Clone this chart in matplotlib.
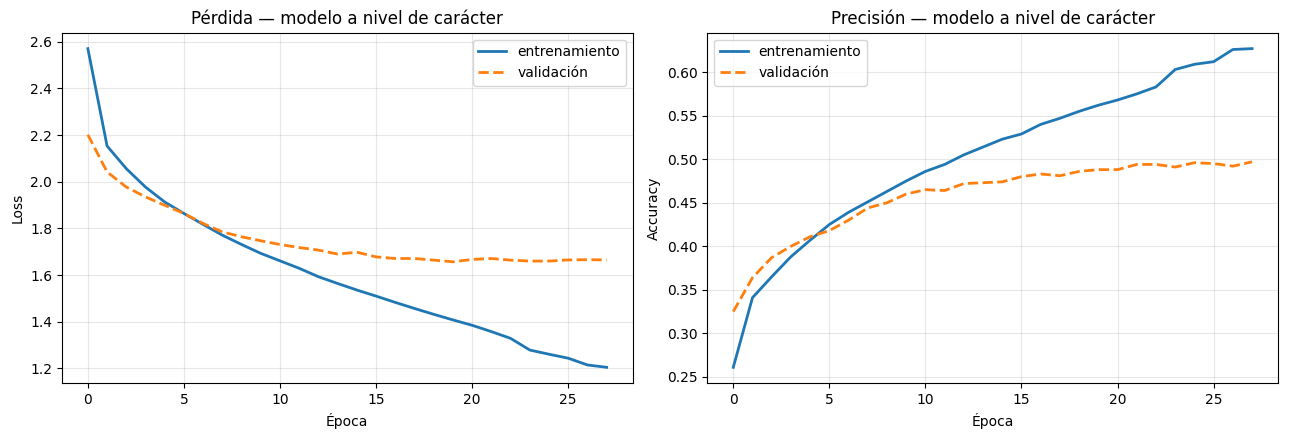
import numpy as np
import matplotlib
matplotlib.use('Agg')
import matplotlib.pyplot as plt

# Curvas de entrenamiento
epocas = np.arange(28)

loss_train = [2.570, 2.153, 2.056, 1.977, 1.913, 1.864, 1.817, 1.771, 1.731, 1.693,
              1.661, 1.629, 1.593, 1.564, 1.536, 1.510, 1.483, 1.457, 1.432, 1.408,
              1.385, 1.358, 1.329, 1.279, 1.261, 1.244, 1.215, 1.205]
loss_val = [2.201, 2.042, 1.977, 1.935, 1.899, 1.864, 1.821, 1.785, 1.764, 1.747,
            1.731, 1.718, 1.707, 1.690, 1.698, 1.678, 1.671, 1.671, 1.664, 1.657,
            1.667, 1.671, 1.664, 1.660, 1.660, 1.665, 1.666, 1.665]

acc_train = [0.261, 0.341, 0.365, 0.388, 0.407, 0.425, 0.439, 0.451, 0.463, 0.475,
             0.486, 0.494, 0.505, 0.514, 0.523, 0.529, 0.540, 0.547, 0.555, 0.562,
             0.568, 0.575, 0.583, 0.603, 0.609, 0.612, 0.626, 0.627]
acc_val = [0.325, 0.364, 0.387, 0.400, 0.411, 0.418, 0.430, 0.444, 0.450, 0.460,
           0.465, 0.464, 0.472, 0.473, 0.474, 0.480, 0.483, 0.481, 0.486, 0.488,
           0.488, 0.494, 0.494, 0.491, 0.496, 0.495, 0.492, 0.497]

fig, axes = plt.subplots(1, 2, figsize=(12.9, 4.4), dpi=100)

# Pérdida
ax = axes[0]
ax.plot(epocas, loss_train, lw=2, label='entrenamiento')
ax.plot(epocas, loss_val, lw=2, ls='--', label='validación')
ax.set_title('Pérdida — modelo a nivel de carácter')
ax.set_xlabel('Época')
ax.set_ylabel('Loss')
ax.grid(alpha=0.3)
ax.legend()

# Precisión
ax = axes[1]
ax.plot(epocas, acc_train, lw=2, label='entrenamiento')
ax.plot(epocas, acc_val, lw=2, ls='--', label='validación')
ax.set_title('Precisión — modelo a nivel de carácter')
ax.set_xlabel('Época')
ax.set_ylabel('Accuracy')
ax.grid(alpha=0.3)
ax.legend()

plt.subplots_adjust(left=0.048, right=0.9907, top=0.9257, bottom=0.129, wspace=0.131)
plt.savefig('out.png')
